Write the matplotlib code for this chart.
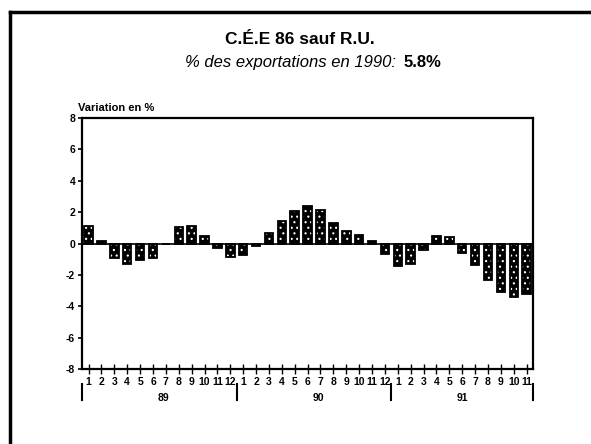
import matplotlib.pyplot as plt
from matplotlib.lines import Line2D

plt.rcParams['font.family'] = ['Liberation Sans', 'DejaVu Sans']
plt.rcParams['hatch.linewidth'] = 0.8

# monthly variation (%), Jan 1989 .. Nov 1991
months = [1, 2, 3, 4, 5, 6, 7, 8, 9, 10, 11, 12,
          1, 2, 3, 4, 5, 6, 7, 8, 9, 10, 11, 12,
          1, 2, 3, 4, 5, 6, 7, 8, 9, 10, 11]
values = [1.1, 0.15, -0.9, -1.3, -1.05, -0.9, 0.0, 1.05, 1.15, 0.5, -0.3, -0.85,
          -0.7, -0.15, 0.7, 1.45, 2.05, 2.4, 2.15, 1.3, 0.8, 0.55, 0.15, -0.65,
          -1.45, -1.3, -0.4, 0.45, 0.4, -0.6, -1.4, -2.3, -3.1, -3.4, -3.2]
years = ['89', '90', '91']
year_pos = [6.8, 18.8, 30.0]
year_seps = [0.5, 12.5, 24.5, 35.5]
yticks = [8, 6, 4, 2, 0, -2, -4, -6, -8]

title = 'C.É.E 86 sauf R.U.'
subtitle = '% des exportations en 1990: '
share = '5.8%'

fig = plt.figure(figsize=(5.91, 4.44), dpi=100)
ax = fig.add_axes([0.139, 0.169, 0.763, 0.565])

x = list(range(1, len(values) + 1))
ax.bar(x, values, width=0.66, color='black', edgecolor='white', hatch='...', linewidth=0)
ax.bar(x, values, width=0.66, fill=False, edgecolor='black', linewidth=1.3)
ax.axhline(0, color='black', lw=1.2)

ax.set_xlim(0.5, len(values) + 0.5)
ax.set_ylim(-8, 8)
ax.set_yticks(yticks)
ax.set_yticklabels([str(v) for v in yticks], fontsize=7.5, fontweight='bold')
ax.set_xticks(x)
ax.set_xticklabels([str(m) for m in months], fontsize=7.5, fontweight='bold')
ax.tick_params(axis='x', direction='inout', length=7, width=1, pad=2)
ax.tick_params(axis='y', direction='out', length=3, width=1.2, pad=2)
for s in ax.spines.values():
    s.set_linewidth(1.6)

# year labels under the months
trans = ax.get_xaxis_transform()
for sep in year_seps:
    ax.plot([sep, sep], [-0.06, -0.125], color='black', lw=1.5,
            transform=trans, clip_on=False)
for pos, yr in zip(year_pos, years):
    ax.text(pos, -0.115, yr, transform=trans, ha='center', va='center',
            fontsize=7.5, fontweight='bold')

ax.text(-0.01, 1.04, 'Variation en %', transform=ax.transAxes, ha='left', va='center',
        fontsize=8, fontweight='bold')

# titles
fig.text(0.508, 0.91, title, ha='center', va='center', fontsize=12.5, fontweight='bold')
fig.text(401 / 591, 0.86, subtitle, ha='right', va='center', fontsize=12, style='italic')
fig.text(404 / 591, 0.86, share, ha='left', va='center', fontsize=12, fontweight='bold')

# outer frame (top and left only)
fig.add_artist(Line2D([10 / 591, 1], [1 - 12 / 444, 1 - 12 / 444], color='black', lw=2.5,
                      transform=fig.transFigure))
fig.add_artist(Line2D([10 / 591, 10 / 591], [0, 1 - 12 / 444], color='black', lw=2.5,
                      transform=fig.transFigure))

plt.savefig('out.png')
